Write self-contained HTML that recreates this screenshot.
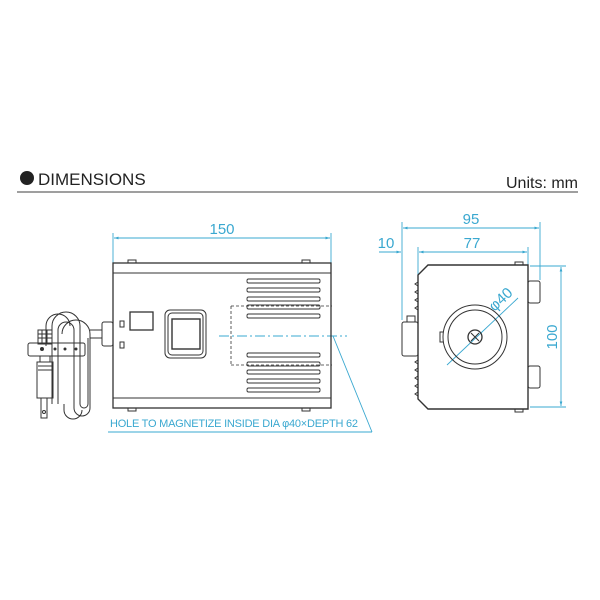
<!DOCTYPE html>
<html><head><style>
html,body{margin:0;padding:0;background:#fff;}
svg{display:block;}
</style></head><body>
<svg width="600" height="600" viewBox="0 0 600 600" xmlns="http://www.w3.org/2000/svg">
<defs>
<marker id="a" viewBox="0 0 10 10" refX="10" refY="5" markerWidth="7" markerHeight="5" orient="auto-start-reverse"><path d="M0,2 L10,5 L0,8 z" fill="#3aa8d0"/></marker>
</defs>
<!-- header -->
<circle cx="27" cy="178" r="7" fill="#222"/>
<text x="38" y="185" font-family="Liberation Sans, sans-serif" font-size="17" fill="#222">DIMENSIONS</text>
<text x="578" y="188" text-anchor="end" font-family="Liberation Sans, sans-serif" font-size="16" fill="#222">Units: mm</text>
<line x1="17" y1="192" x2="578" y2="192" stroke="#666" stroke-width="1.3"/>

<g fill="none" stroke="#3aa8d0" stroke-width="0.9" font-family="Liberation Sans, sans-serif">
<!-- 150 -->
<line x1="113" y1="233" x2="113" y2="263"/><line x1="331" y1="233" x2="331" y2="263"/>
<line x1="114" y1="238" x2="330" y2="238" marker-start="url(#a)" marker-end="url(#a)"/>
<!-- 95 / 77 / 10 -->
<line x1="402" y1="222" x2="402" y2="320"/><line x1="540" y1="222" x2="540" y2="280"/>
<line x1="403" y1="228" x2="539" y2="228" marker-start="url(#a)" marker-end="url(#a)"/>
<line x1="418" y1="247" x2="418" y2="275"/><line x1="528" y1="247" x2="528" y2="265"/>
<line x1="379" y1="252" x2="401" y2="252" marker-end="url(#a)"/>
<line x1="419" y1="252" x2="527" y2="252" marker-start="url(#a)" marker-end="url(#a)"/>
<!-- 100 -->
<line x1="530" y1="266" x2="566" y2="266"/><line x1="530" y1="407" x2="566" y2="407"/>
<line x1="561" y1="267" x2="561" y2="406" marker-start="url(#a)" marker-end="url(#a)"/>
<!-- phi40 -->
<line x1="447" y1="365" x2="518" y2="298"/>
<!-- leader -->
<line x1="219" y1="336" x2="347" y2="336" stroke-dasharray="10,3,2,3"/>
<line x1="333" y1="336" x2="372" y2="432"/>
<line x1="108" y1="432" x2="372" y2="432"/>
</g>
<g fill="#3aa8d0" font-family="Liberation Sans, sans-serif">
<text x="222" y="234" text-anchor="middle" font-size="15">150</text>
<text x="471" y="224" text-anchor="middle" font-size="15">95</text>
<text x="472" y="248" text-anchor="middle" font-size="15">77</text>
<text x="386" y="248" text-anchor="middle" font-size="15">10</text>
<text transform="translate(557,337) rotate(-90)" text-anchor="middle" font-size="15">100</text>
<text transform="translate(504,303) rotate(-43)" text-anchor="middle" font-size="15">φ40</text>
<text x="110" y="427" font-size="11" font-family="Liberation Sans Narrow, Liberation Sans, sans-serif" textLength="248">HOLE TO MAGNETIZE INSIDE DIA φ40×DEPTH 62</text>
</g>

<!-- front view -->
<g fill="none" stroke="#333" stroke-width="1">
<rect x="113" y="263" width="218" height="145" stroke-width="1.3"/>
<line x1="113" y1="273" x2="331" y2="273"/>
<line x1="113" y1="398" x2="331" y2="398"/>
<path d="M128,263 v-3 h8 v3 M302,263 v-3 h8 v3 M128,408 v3 h8 v-3 M302,408 v3 h8 v-3"/>
<g stroke-width="0.9">
<rect x="247" y="279" width="73" height="4" rx="1.5"/><rect x="247" y="288" width="73" height="4" rx="1.5"/><rect x="247" y="297" width="73" height="4" rx="1.5"/><rect x="247" y="305" width="73" height="4" rx="1.5"/><rect x="247" y="314" width="73" height="4" rx="1.5"/>
<rect x="247" y="353" width="73" height="4" rx="1.5"/><rect x="247" y="362" width="73" height="4" rx="1.5"/><rect x="247" y="370" width="73" height="4" rx="1.5"/><rect x="247" y="379" width="73" height="4" rx="1.5"/><rect x="247" y="388" width="73" height="4" rx="1.5"/>
</g>
<rect x="120" y="321" width="4" height="6"/><rect x="120" y="342" width="4" height="6"/>
<rect x="130" y="312" width="23" height="18" stroke-width="1.3"/>
<rect x="165" y="310" width="41" height="48" rx="5"/>
<rect x="168" y="313" width="35" height="42" rx="4"/>
<rect x="172" y="319" width="28" height="30" stroke-width="1.4"/>
<path d="M231,306 H332 M231,365 H332 M231,306 V365" stroke-dasharray="3,2" stroke-width="0.8"/>
<!-- bushing & cord -->
<rect x="102" y="322" width="11" height="24" rx="2"/>
<path d="M90,330 h12 M90,338 h12"/>
<path d="M58,404 V330 a8,8 0 0 1 16,0 V408 a8,8 0 0 0 16,0 V334 a14,14 0 0 0 -28,0"/>
<path d="M52,404 V326 a14,14 0 0 1 28,0 V404 a4,4 0 0 0 8,0 V338"/>
<path d="M64,404 V410 a9,9 0 0 0 18,0 M46,346 V326 a12,12 0 0 1 24,0"/>
<rect x="38" y="330" width="14" height="14"/>
<path d="M38,334 h14 M38,338 h14 M42,330 v14 M47,330 v14"/>
<rect x="28" y="343" width="57" height="13" rx="2"/>
<circle cx="42" cy="349" r="1.5" fill="#333"/><circle cx="55" cy="349" r="1" fill="#333"/><circle cx="65" cy="349" r="1" fill="#333"/><circle cx="76" cy="349" r="1" fill="#333"/>
<path d="M40,356 v6 h10 v-6 M37,362 h16 v36 h-16 z M38,366 h14 M38,370 h14"/>
<rect x="41" y="398" width="6" height="20"/>
<circle cx="44" cy="412" r="1.5"/>
</g>

<!-- side view -->
<g fill="none" stroke="#333" stroke-width="1">
<path d="M428,265 H528 V409 H428 L418,399 V275 Z" stroke-width="1.4"/>
<path d="M418,282 l-3,2 l3,2 M418,290 l-3,2 l3,2 M418,298 l-3,2 l3,2 M418,306 l-3,2 l3,2 M418,360 l-3,2 l3,2 M418,368 l-3,2 l3,2 M418,376 l-3,2 l3,2 M418,384 l-3,2 l3,2 M418,392 l-3,2 l3,2"/>
<rect x="402" y="322" width="16" height="34" rx="2"/>
<rect x="407" y="316" width="8" height="6"/>
<rect x="528" y="281" width="12" height="22" rx="2"/>
<rect x="528" y="366" width="12" height="22" rx="2"/>
<path d="M515,265 v-3 h8 v3 M515,409 v3 h8 v-3"/>
<circle cx="475" cy="337" r="32"/>
<circle cx="475" cy="337" r="27"/>
<path d="M443,332 h-3 v10 h3"/>
<circle cx="475" cy="337" r="7" stroke-width="1.3"/>
<path d="M471,333 l8,8 M479,333 l-8,8"/>
</g>
</svg>
</body></html>
